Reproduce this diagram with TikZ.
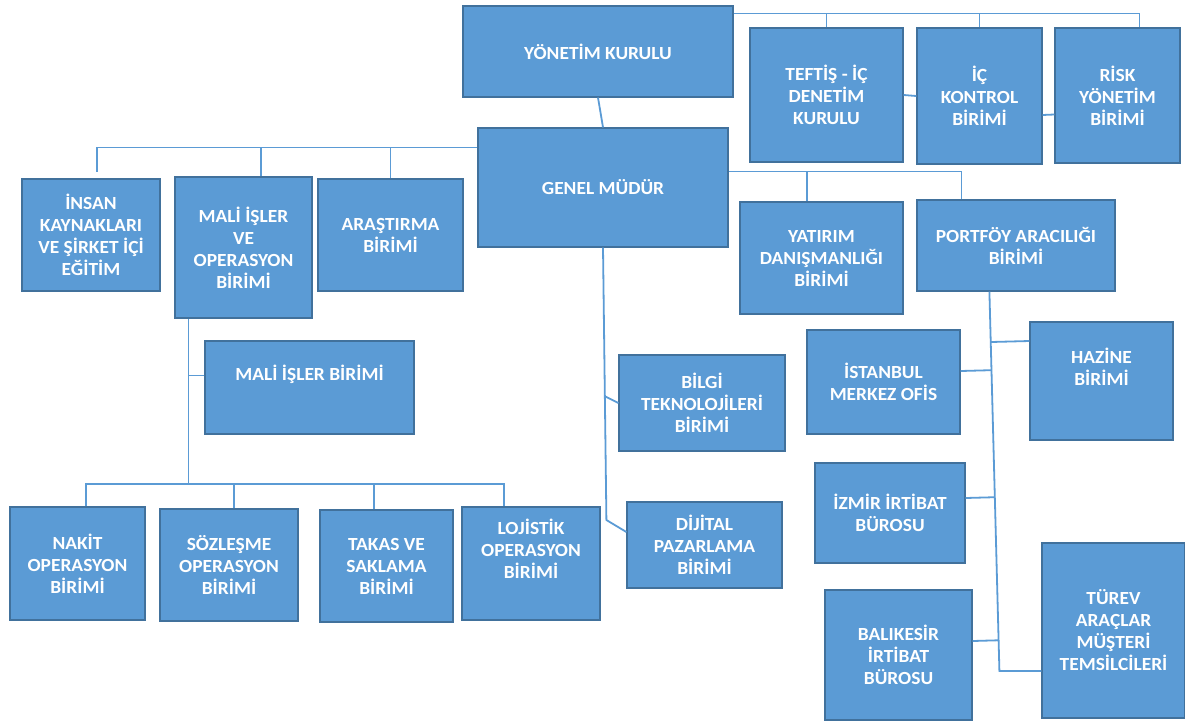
\documentclass[tikz,border=0pt]{standalone}
\usepackage{fontspec}
\setmainfont{Carlito}[FakeStretch=1.05]
\usetikzlibrary{calc}
\definecolor{boxfill}{HTML}{5B9BD5}
\definecolor{boxline}{HTML}{41719C}
\definecolor{conncol}{HTML}{5B9BD5}
\begin{document}
\begin{tikzpicture}[x=1pt,y=-1pt,
  box/.style={draw=boxline, line width=1.2pt, fill=boxfill, text=white,
    font=\bfseries\fontsize{18.5}{22}\selectfont, align=center, inner sep=0pt},
  conn/.style={draw=conncol, line width=1.8pt}]
\useasboundingbox (0,0) rectangle (1185,723);
% boxes
\node[box, minimum width=270pt, minimum height=91pt] (yk) at (598,51.5) {YÖNETİM KURULU};
\node[box, minimum width=153pt, minimum height=134pt] (teftis) at (826.5,95) {TEFTİŞ - İÇ\\DENETİM\\KURULU};
\node[box, minimum width=125pt, minimum height=136pt] (ickontrol) at (979.5,96) {İÇ\\KONTROL\\BİRİMİ};
\node[box, minimum width=125pt, minimum height=135pt] (risk) at (1117.5,95.5) {RİSK\\YÖNETİM\\BİRİMİ};
\node[box, minimum width=250pt, minimum height=119pt] (gm) at (603,187.5) {GENEL MÜDÜR};
\node[box, minimum width=138pt, minimum height=112pt] (insan) at (91,235) {İNSAN\\KAYNAKLARI\\VE ŞİRKET İÇİ\\EĞİTİM};
\node[box, minimum width=137pt, minimum height=141pt] (mali) at (243.5,247.5) {MALİ İŞLER\\VE\\OPERASYON\\BİRİMİ};
\node[box, minimum width=145pt, minimum height=112pt] (arastirma) at (390.5,235) {ARAŞTIRMA\\BİRİMİ};
\node[box, minimum width=163pt, minimum height=112pt] (yatirim) at (821.5,258) {YATIRIM\\DANIŞMANLIĞI\\BİRİMİ};
\node[box, minimum width=198pt, minimum height=91pt] (portfoy) at (1016,245.5) {PORTFÖY ARACILIĞI\\BİRİMİ};
\node[box, minimum width=209pt, minimum height=93pt] (maliisler) at (309.5,387.5) {MALİ İŞLER BİRİMİ\\\strut};
\node[box, minimum width=166pt, minimum height=96pt] (bilgi) at (702,403) {BİLGİ\\TEKNOLOJİLERİ\\BİRİMİ};
\node[box, minimum width=153pt, minimum height=104pt] (istanbul) at (883.5,382) {İSTANBUL\\MERKEZ OFİS};
\node[box, minimum width=143pt, minimum height=118pt] (hazine) at (1101.5,381) {HAZİNE\\BİRİMİ\\\strut};
\node[box, minimum width=150pt, minimum height=100pt] (izmir) at (890,513) {İZMİR İRTİBAT\\BÜROSU};
\node[box, minimum width=155pt, minimum height=86pt] (dijital) at (704.5,545) {DİJİTAL\\PAZARLAMA\\BİRİMİ};
\node[box, minimum width=147pt, minimum height=130pt] (balikesir) at (898.5,655) {BALIKESİR\\İRTİBAT\\BÜROSU};
\node[box, minimum width=143pt, minimum height=175pt] (turev) at (1113.5,630.5) {TÜREV\\ARAÇLAR\\MÜŞTERİ\\TEMSİLCİLERİ};
\node[box, minimum width=135pt, minimum height=113pt] (nakit) at (77.5,563.5) {NAKİT\\OPERASYON\\BİRİMİ};
\node[box, minimum width=138pt, minimum height=112pt] (sozlesme) at (229,565) {SÖZLEŞME\\OPERASYON\\BİRİMİ};
\node[box, minimum width=133pt, minimum height=112pt] (takas) at (386.5,566) {TAKAS VE\\SAKLAMA\\BİRİMİ};
\node[box, minimum width=138pt, minimum height=113pt] (lojistik) at (531,563.5) {LOJİSTİK\\OPERASYON\\BİRİMİ\\\strut};
% top bus
\coordinate (tb) at ($(yk.north east)+(0,8)$);
\coordinate (rd) at ($(risk.north west)+(85,0)$);
\draw[conn] (tb) -| (rd);
\draw[conn] (teftis.north) -- (teftis.north |- tb);
\draw[conn] (ickontrol.north) -- (ickontrol.north |- tb);
\draw[conn] (teftis.east) -- (ickontrol.west);
\draw[conn] ($(ickontrol.east)+(0,19)$) -- ($(risk.west)+(0,19)$);
\draw[conn] (yk.south) -- (gm.north);
% left bus from GM
\coordinate (lb) at ($(gm.north west)+(0,20)$);
\coordinate (id) at ($(insan.north)+(6,-6)$);
\coordinate (md) at ($(mali.north)+(17.5,0)$);
\draw[conn] (lb) -| (id);
\draw[conn] (md) -- (md |- lb);
\draw[conn] (arastirma.north) -- (arastirma.north |- lb);
% right bus from GM
\coordinate (rb) at ($(gm.north east)+(0,44)$);
\coordinate (yd) at ($(yatirim.north)+(-14.5,0)$);
\coordinate (pd) at ($(portfoy.north west)+(45,0)$);
\draw[conn] (rb) -| (pd);
\draw[conn] (yd) -- (yd |- rb);
% GM down
\coordinate (gv) at ($(dijital.west)+(-20,-25)$);
\draw[conn] (gm.south) -- (gv) -- ($(dijital.west)+(0,-13)$);
\draw[conn] (bilgi.west) -- ++(-14,-7);
% Mali isler ve operasyon down
\coordinate (mv) at ($(mali.south west)+(14,0)$);
\coordinate (mb) at ($(mv)+(0,165)$);
\coordinate (mw) at ($(maliisler.west)+(0,-12)$);
\coordinate (n1) at ($(nakit.north)+(8.5,0)$);
\coordinate (s1) at ($(sozlesme.north)+(5,0)$);
\coordinate (t1) at ($(takas.north)+(-12.5,0)$);
\coordinate (l1) at ($(lojistik.north)+(-27,0)$);
\draw[conn] (mv) -- (mb);
\draw[conn] (mw) -- (mv |- mw);
\draw[conn] (n1) -- (n1 |- mb) -- (l1 |- mb) -- (l1);
\draw[conn] (s1) -- (s1 |- mb);
\draw[conn] (t1) -- (t1 |- mb);
% Portfoy down
\coordinate (p0) at ($(portfoy.south west)+(73,0)$);
\coordinate (p1) at ($(turev.west)+(-42,40.5)$);
\draw[conn] (p0) -- (p1) -- ($(turev.west)+(0,40.5)$);
\coordinate (hz) at ($(hazine.west)+(0,-40)$);
\coordinate (ist) at ($(istanbul.east)+(0,-11)$);
\coordinate (iz) at ($(izmir.east)+(0,-15)$);
\coordinate (bk) at ($(balikesir.east)+(0,-14)$);
\draw[conn] (hz) -- ($(p0)!(hz)!(p1)$);
\draw[conn] (ist) -- ($(p0)!(ist)!(p1)$);
\draw[conn] (iz) -- ($(p0)!(iz)!(p1)$);
\draw[conn] (bk) -- ($(p0)!(bk)!(p1)$);
\end{tikzpicture}
\end{document}
